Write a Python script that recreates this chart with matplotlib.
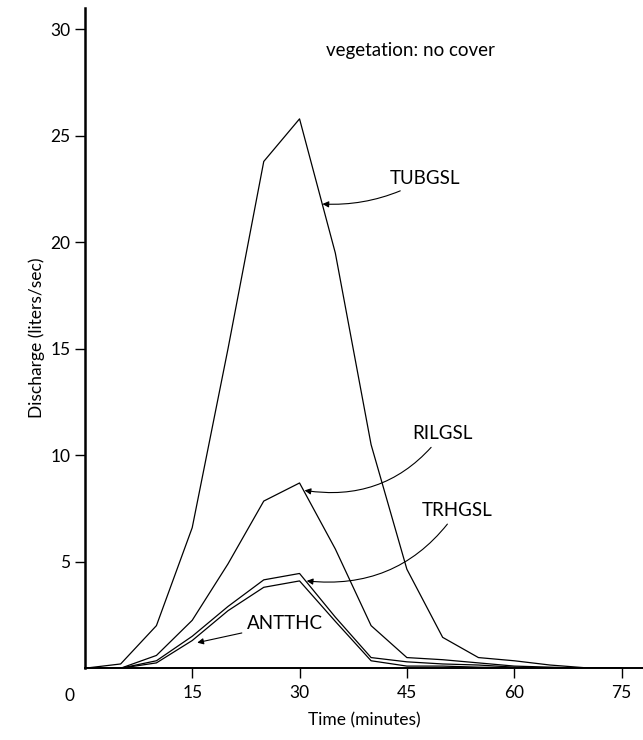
import matplotlib
matplotlib.use("Agg")
import matplotlib.pyplot as plt

# data (minutes, liters/sec)
time = [0, 5, 10, 15, 20, 25, 30, 35, 40, 45, 50, 55, 60, 65, 70, 75]
tubgsl = [0, 0.2, 2.0, 6.6, 15.0, 23.8, 25.8, 19.5, 10.5, 4.65, 1.45, 0.5, 0.35, 0.15, 0.02, 0]
rilgsl = [0, 0, 0.6, 2.25, 4.9, 7.85, 8.7, 5.6, 2.0, 0.5, 0.4, 0.25, 0.1, 0.05, 0, 0]
trhgsl = [0, 0, 0.35, 1.5, 2.9, 4.15, 4.45, 2.4, 0.5, 0.3, 0.2, 0.15, 0.05, 0, 0, 0]
antthc = [0, 0, 0.25, 1.3, 2.7, 3.8, 4.1, 2.2, 0.35, 0.1, 0.1, 0.05, 0.02, 0, 0, 0]

xticks = [15, 30, 45, 60, 75]
yticks = [5, 10, 15, 20, 25, 30]

plt.rcParams['font.family'] = ['Lato', 'DejaVu Sans']
fs = 12.5   # ticks and axis labels
lfs = 13.5  # text inside the plot

fig = plt.figure(figsize=(6.43, 7.4), dpi=100)
ax = fig.add_axes([0.132, 0.097, 0.868, 0.892])

for s in [tubgsl, rilgsl, trhgsl, antthc]:
    ax.plot(time, s, color="black", lw=0.9)

ax.set_xlim(0, 78)
ax.set_ylim(0, 31)
ax.set_xticks(xticks)
ax.set_yticks(yticks)
ax.tick_params(direction="out", length=7, width=1, labelsize=fs, colors="black")
ax.tick_params(axis="x", pad=5)
ax.spines["top"].set_visible(False)
ax.spines["right"].set_visible(False)
ax.spines["left"].set_linewidth(1.8)
ax.spines["bottom"].set_linewidth(1.4)

# "0" sits left of the origin
ax.text(-2.2, -0.042, "0", transform=ax.get_xaxis_transform(),
        ha="center", va="center", fontsize=fs)

ax.set_xlabel("Time (minutes)", fontsize=fs, labelpad=8)
ax.set_ylabel("Discharge (liters/sec)", fontsize=fs, labelpad=4)

ax.text(33.7, 29.0, "vegetation: no cover", fontsize=lfs, va="center")

arrow = dict(arrowstyle="-|>", color="black", lw=0.8, mutation_scale=9,
             shrinkA=2, shrinkB=0)
ax.annotate("TUBGSL", xy=(33.2, 21.8), xytext=(42.6, 23.0), fontsize=lfs,
            va="center", ha="left",
            arrowprops=dict(arrow, connectionstyle="arc3,rad=-0.15"))
ax.annotate("RILGSL", xy=(30.7, 8.35), xytext=(45.7, 11.0), fontsize=lfs,
            va="center", ha="left",
            arrowprops=dict(arrow, connectionstyle="arc3,rad=-0.3"))
ax.annotate("TRHGSL", xy=(31.0, 4.1), xytext=(47.1, 7.4), fontsize=lfs,
            va="center", ha="left",
            arrowprops=dict(arrow, connectionstyle="arc3,rad=-0.3"))
ax.annotate("ANTTHC", xy=(15.7, 1.2), xytext=(22.7, 2.1), fontsize=lfs,
            va="center", ha="left",
            arrowprops=dict(arrow, connectionstyle="arc3,rad=0"))

fig.savefig("out.png", dpi=100)
